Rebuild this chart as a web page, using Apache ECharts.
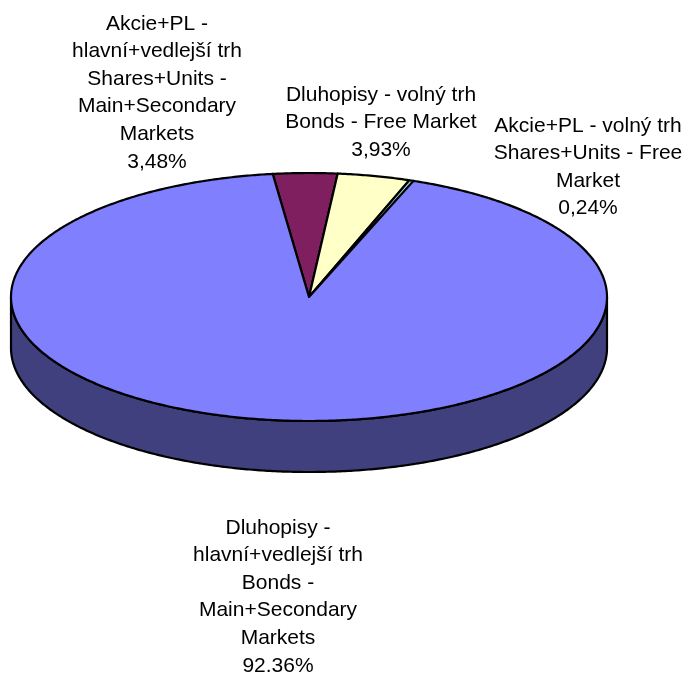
<!DOCTYPE html>
<html>
<head>
<meta charset="utf-8">
<script src="https://cdn.jsdelivr.net/npm/echarts@6/dist/echarts.min.js"></script>
<style>html,body{margin:0;padding:0;background:#fff}#c{width:686px;height:674px}</style>
</head>
<body>
<div id="c"></div>
<script>
// ---- data (clockwise from start angle) ----
const categories = [
  'Akcie+PL -\nhlavní+vedlejší trh\nShares+Units -\nMain+Secondary\nMarkets',
  'Dluhopisy - volný trh\nBonds - Free Market',
  'Akcie+PL - volný trh\nShares+Units - Free\nMarket',
  'Dluhopisy -\nhlavní+vedlejší trh\nBonds -\nMain+Secondary\nMarkets'
];
const values = [3.48, 3.93, 0.24, 92.36];
const valueLabels = ['3,48%', '3,93%', '0,24%', '92.36%'];

// ---- styling / layout ----
const topColors = ['#7F1F5F', '#FFFFC8', '#A0E0E0', '#8080FF'];
const sideColors = ['#40102F', '#808064', '#507070', '#40407F'];
const labelPos = [[157, 10], [381, 81], [588, 112], [278, 514]];
const G = { cx: 309, cy: 297, rx: 298, ry: 124, depth: 51, start: -7 };

const total = values.reduce((a, b) => a + b, 0);
function sliceRange(i) {
  let acc = 0;
  for (let k = 0; k < i; k++) acc += values[k];
  const a = G.start + acc / total * 360;
  const b = G.start + (acc + values[i]) / total * 360;
  return [a, b];
}
function pt(theta, dy) {
  const r = theta * Math.PI / 180;
  return [G.cx + G.rx * Math.sin(r), G.cy - G.ry * Math.cos(r) + (dy || 0)];
}
function arc(a, b, dy) {
  const pts = [];
  const n = Math.max(2, Math.ceil(Math.abs(b - a) / 0.5));
  for (let j = 0; j <= n; j++) pts.push(pt(a + (b - a) * j / n, dy));
  return pts;
}

const chart = echarts.init(document.getElementById('c'));
chart.setOption({
  animation: false,
  series: [
    {
      type: 'custom',
      coordinateSystem: 'none',
      z: 1,
      data: values,
      renderItem: function (params, api) {
        const i = params.dataIndex;
        const [a, b] = sliceRange(i);
        const children = [];
        [[90, 270], [450, 630], [-270, -90]].forEach(function (w) {
          const s = Math.max(a, w[0]), e = Math.min(b, w[1]);
          if (e > s) {
            const pts = arc(s, e, 0).concat(arc(e, s, G.depth));
            children.push({
              type: 'polygon',
              shape: { points: pts },
              style: { fill: sideColors[i], stroke: '#000', lineWidth: 2.2, lineJoin: 'round' }
            });
          }
        });
        return { type: 'group', children: children };
      }
    },
    {
      type: 'custom',
      coordinateSystem: 'none',
      z: 2,
      data: values,
      renderItem: function (params, api) {
        const i = params.dataIndex;
        const [a, b] = sliceRange(i);
        const pts = [[G.cx, G.cy]].concat(arc(a, b, 0));
        return {
          type: 'group',
          children: [
            {
              type: 'polygon',
              shape: { points: pts },
              style: { fill: topColors[i], stroke: '#000', lineWidth: 2.2, lineJoin: 'round' }
            },
            {
              type: 'text',
              style: {
                text: categories[i] + '\n' + valueLabels[i],
                x: labelPos[i][0],
                y: labelPos[i][1],
                align: 'center',
                verticalAlign: 'top',
                fontSize: 21,
                fontFamily: '"Liberation Sans", Arial, sans-serif',
                lineHeight: 27.6,
                fill: '#000'
              }
            }
          ]
        };
      }
    }
  ]
});
</script>
</body>
</html>
